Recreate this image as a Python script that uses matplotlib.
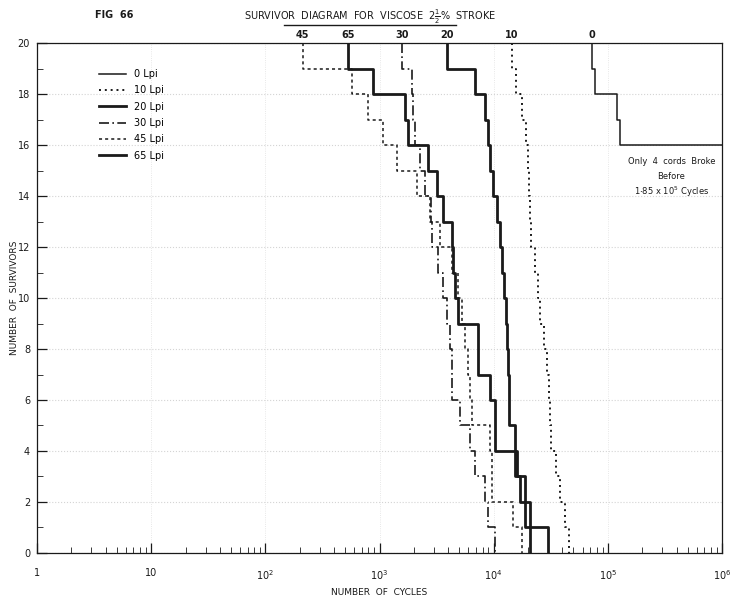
import numpy as np
import matplotlib.pyplot as plt
from matplotlib.lines import Line2D
from matplotlib.ticker import FixedLocator, LogLocator, NullFormatter

# cycles at which each cord broke (one survivor lost per entry)
labels = ['0 Lpi', '10 Lpi', '20 Lpi', '30 Lpi', '45 Lpi', '65 Lpi']
top_labels = ['0', '10', '20', '30', '45', '65']

breaks_0 = [72400, 76900, 119900, 127400]
test_end_0 = 1.0e6   # remaining 16 cords still unbroken
breaks_10 = [14400, 15600, 17700, 19100, 19900, 20300, 20800, 21200, 23000, 24400,
             25400, 27500, 29200, 30400, 31000, 31700, 35100, 38000, 42000, 45500]
breaks_20 = [3890, 6840, 8380, 8890, 9260, 9840, 10700, 11300, 11800, 12300,
             12800, 13100, 13300, 13600, 13600, 15300, 16000, 18800, 20800, 29800]
breaks_30 = [1570, 1920, 1960, 2040, 2260, 2500, 2820, 2880, 3250, 3590,
             3890, 4130, 4300, 4300, 5060, 6190, 6840, 8380, 8890, 10200]
breaks_45 = [213, 573, 791, 1070, 1420, 2130, 2760, 3380, 4300, 4860,
             5270, 5600, 5950, 6190, 6450, 9260, 9640, 9640, 14700, 17700]
breaks_65 = [529, 875, 1670, 1770, 2650, 3180, 3590, 4300, 4390, 4580,
             4860, 7270, 7270, 9260, 10200, 10200, 15300, 17000, 18800, 20800]
n_cords = 20

all_breaks = [breaks_0, breaks_10, breaks_20, breaks_30, breaks_45, breaks_65]
styles = [
    dict(ls='-', lw=1.1),
    dict(ls=(0, (1, 2)), lw=1.4),
    dict(ls='-', lw=2.0),
    dict(ls=(0, (6, 2, 1, 2)), lw=1.2),
    dict(ls=(0, (2, 2)), lw=1.1),
    dict(ls='-', lw=2.0),
]

fig = plt.figure(figsize=(7.33, 5.99), dpi=100)
ax = fig.add_axes([0.0505, 0.0768, 0.9345, 0.8514])
ink = '#1a1a1a'

for brk, st, tl in zip(all_breaks, styles, top_labels):
    xs = [brk[0]] + list(brk)
    ys = list(n_cords - np.arange(len(brk) + 1))
    if brk is breaks_0:
        xs.append(test_end_0)
        ys.append(ys[-1])
    ax.step(xs, ys, where='post', color=ink, **st)
    ax.text(brk[0], 20.12, tl, ha='center', va='bottom', fontsize=7,
            fontweight='bold', color=ink, clip_on=False)

ax.set_xscale('log')
ax.set_xlim(1, 1e6)
ax.set_ylim(0, 20)

ax.xaxis.set_major_locator(FixedLocator([1, 10, 1e2, 1e3, 1e4, 1e5, 1e6]))
ax.set_xticklabels(['1', '10', '$10^2$', '$10^3$', '$10^4$', '$10^5$', '$10^6$'])
ax.xaxis.set_minor_locator(LogLocator(base=10, subs=np.arange(2, 10)))
ax.xaxis.set_minor_formatter(NullFormatter())
ax.set_yticks(np.arange(0, 21, 2))
ax.set_yticks(np.arange(1, 20, 2), minor=True)

ax.tick_params(axis='both', which='major', direction='in', length=7, width=0.9,
               labelsize=7, colors=ink)
ax.tick_params(axis='x', which='major', pad=11)
ax.tick_params(axis='y', which='major', pad=5)
ax.tick_params(axis='both', which='minor', direction='in', length=4, width=0.6, colors=ink)

for sp in ax.spines.values():
    sp.set_color(ink)
    sp.set_linewidth(0.9)

# faint dotted lines of the graph paper
ax.grid(True, which='major', axis='y', color='#d4d4d4', ls=':', lw=0.8)
ax.grid(True, which='major', axis='x', color='#e0e0e0', ls=':', lw=0.6)

ax.set_xlabel('NUMBER  OF  CYCLES', fontsize=6.5, color=ink, labelpad=4)
ax.set_ylabel('NUMBER  OF  SURVIVORS', fontsize=6.5, color=ink, labelpad=-1)

handles = [Line2D([], [], color=ink, **st) for st in styles]
ax.legend(handles, labels, loc='upper left', bbox_to_anchor=(0.077, 0.966),
          frameon=False, fontsize=7, handlelength=2.8, labelspacing=0.65,
          handletextpad=0.8)

ax.text(3.6e5, 15.35, 'Only  4  cords  Broke', ha='center', va='center',
        fontsize=6, color=ink)
ax.text(3.6e5, 14.75, 'Before', ha='center', va='center', fontsize=6, color=ink)
ax.text(3.6e5, 14.15, '1$\\cdot$85 x 10$^5$ Cycles', ha='center', va='center',
        fontsize=6, color=ink)

fig.text(0.505, 0.972, 'SURVIVOR  DIAGRAM  FOR  VISCOSE  2$\\frac{1}{2}$%  STROKE',
         ha='center', va='center', fontsize=7, color=ink)
fig.add_artist(Line2D([0.388, 0.622], [0.958, 0.958], color=ink, lw=1.0))
fig.text(0.13, 0.975, 'FIG  66', ha='left', va='center', fontsize=7,
         fontweight='bold', color=ink)

fig.savefig('out.png', dpi=100)
